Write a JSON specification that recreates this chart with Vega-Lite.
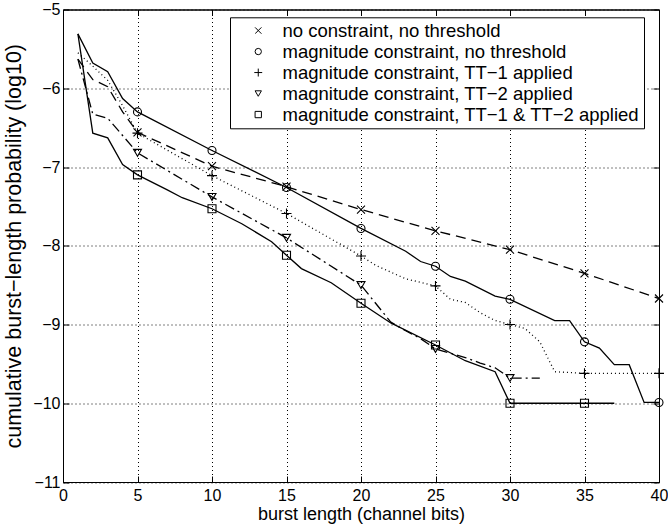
{
  "$schema": "https://vega.github.io/schema/vega-lite/v6.json",
  "width": 596,
  "height": 472.5,
  "autosize": {"type": "none"},
  "padding": {"left": 63, "top": 9.5, "right": 9, "bottom": 47},
  "background": "white",
  "config": {
    "view": {"stroke": "black", "strokeWidth": 1},
    "font": "Liberation Sans",
    "axis": {
      "domainColor": "black",
      "tickColor": "black",
      "labelColor": "black",
      "titleColor": "black",
      "labelFontSize": 16,
      "titleFontSize": 18,
      "titleFontWeight": "normal",
      "labelFlush": false,
      "labelOverlap": false,
      "tickSize": -6
    }
  },
  "data": {
    "values": [
      {"s": "no constraint, no threshold", "x": 1, "y": -5.63},
      {"s": "no constraint, no threshold", "x": 2, "y": -5.89},
      {"s": "no constraint, no threshold", "x": 3, "y": -5.98},
      {"s": "no constraint, no threshold", "x": 4, "y": -6.3},
      {"s": "no constraint, no threshold", "x": 5, "y": -6.56},
      {"s": "no constraint, no threshold", "x": 10, "y": -6.99},
      {"s": "no constraint, no threshold", "x": 15, "y": -7.25},
      {"s": "no constraint, no threshold", "x": 20, "y": -7.54},
      {"s": "no constraint, no threshold", "x": 25, "y": -7.81},
      {"s": "no constraint, no threshold", "x": 30, "y": -8.05},
      {"s": "no constraint, no threshold", "x": 35, "y": -8.35},
      {"s": "no constraint, no threshold", "x": 40, "y": -8.67},

      {"s": "magnitude constraint, no threshold", "x": 1, "y": -5.31},
      {"s": "magnitude constraint, no threshold", "x": 2, "y": -5.68},
      {"s": "magnitude constraint, no threshold", "x": 3, "y": -5.79},
      {"s": "magnitude constraint, no threshold", "x": 4, "y": -6.13},
      {"s": "magnitude constraint, no threshold", "x": 5, "y": -6.3},
      {"s": "magnitude constraint, no threshold", "x": 10, "y": -6.79},
      {"s": "magnitude constraint, no threshold", "x": 15, "y": -7.26},
      {"s": "magnitude constraint, no threshold", "x": 20, "y": -7.78},
      {"s": "magnitude constraint, no threshold", "x": 23, "y": -8.07},
      {"s": "magnitude constraint, no threshold", "x": 24, "y": -8.2},
      {"s": "magnitude constraint, no threshold", "x": 25, "y": -8.26},
      {"s": "magnitude constraint, no threshold", "x": 26, "y": -8.39},
      {"s": "magnitude constraint, no threshold", "x": 27, "y": -8.45},
      {"s": "magnitude constraint, no threshold", "x": 29, "y": -8.64},
      {"s": "magnitude constraint, no threshold", "x": 30, "y": -8.68},
      {"s": "magnitude constraint, no threshold", "x": 33, "y": -8.95},
      {"s": "magnitude constraint, no threshold", "x": 34, "y": -8.95},
      {"s": "magnitude constraint, no threshold", "x": 35, "y": -9.22},
      {"s": "magnitude constraint, no threshold", "x": 36, "y": -9.3},
      {"s": "magnitude constraint, no threshold", "x": 37, "y": -9.51},
      {"s": "magnitude constraint, no threshold", "x": 38, "y": -9.51},
      {"s": "magnitude constraint, no threshold", "x": 39, "y": -9.99},
      {"s": "magnitude constraint, no threshold", "x": 40, "y": -9.99},

      {"s": "magnitude constraint, TT−1 applied", "x": 1, "y": -5.55},
      {"s": "magnitude constraint, TT−1 applied", "x": 2, "y": -5.72},
      {"s": "magnitude constraint, TT−1 applied", "x": 3, "y": -5.9},
      {"s": "magnitude constraint, TT−1 applied", "x": 4, "y": -6.22},
      {"s": "magnitude constraint, TT−1 applied", "x": 5, "y": -6.57},
      {"s": "magnitude constraint, TT−1 applied", "x": 10, "y": -7.11},
      {"s": "magnitude constraint, TT−1 applied", "x": 15, "y": -7.59},
      {"s": "magnitude constraint, TT−1 applied", "x": 20, "y": -8.13},
      {"s": "magnitude constraint, TT−1 applied", "x": 21, "y": -8.25},
      {"s": "magnitude constraint, TT−1 applied", "x": 23, "y": -8.42},
      {"s": "magnitude constraint, TT−1 applied", "x": 25, "y": -8.51},
      {"s": "magnitude constraint, TT−1 applied", "x": 26, "y": -8.68},
      {"s": "magnitude constraint, TT−1 applied", "x": 27, "y": -8.72},
      {"s": "magnitude constraint, TT−1 applied", "x": 28, "y": -8.85},
      {"s": "magnitude constraint, TT−1 applied", "x": 29, "y": -8.95},
      {"s": "magnitude constraint, TT−1 applied", "x": 30, "y": -9.0},
      {"s": "magnitude constraint, TT−1 applied", "x": 31, "y": -9.05},
      {"s": "magnitude constraint, TT−1 applied", "x": 32, "y": -9.22},
      {"s": "magnitude constraint, TT−1 applied", "x": 33, "y": -9.6},
      {"s": "magnitude constraint, TT−1 applied", "x": 35, "y": -9.62},
      {"s": "magnitude constraint, TT−1 applied", "x": 40, "y": -9.62},

      {"s": "magnitude constraint, TT−2 applied", "x": 1, "y": -5.63},
      {"s": "magnitude constraint, TT−2 applied", "x": 2, "y": -6.33},
      {"s": "magnitude constraint, TT−2 applied", "x": 3, "y": -6.38},
      {"s": "magnitude constraint, TT−2 applied", "x": 4, "y": -6.6},
      {"s": "magnitude constraint, TT−2 applied", "x": 5, "y": -6.82},
      {"s": "magnitude constraint, TT−2 applied", "x": 10, "y": -7.38},
      {"s": "magnitude constraint, TT−2 applied", "x": 15, "y": -7.9},
      {"s": "magnitude constraint, TT−2 applied", "x": 20, "y": -8.5},
      {"s": "magnitude constraint, TT−2 applied", "x": 22, "y": -8.97},
      {"s": "magnitude constraint, TT−2 applied", "x": 23, "y": -9.08},
      {"s": "magnitude constraint, TT−2 applied", "x": 24, "y": -9.18},
      {"s": "magnitude constraint, TT−2 applied", "x": 25, "y": -9.31},
      {"s": "magnitude constraint, TT−2 applied", "x": 27, "y": -9.42},
      {"s": "magnitude constraint, TT−2 applied", "x": 28, "y": -9.49},
      {"s": "magnitude constraint, TT−2 applied", "x": 29, "y": -9.55},
      {"s": "magnitude constraint, TT−2 applied", "x": 30, "y": -9.68},
      {"s": "magnitude constraint, TT−2 applied", "x": 32, "y": -9.68},

      {"s": "magnitude constraint, TT−1 & TT−2 applied", "x": 1, "y": -5.31},
      {"s": "magnitude constraint, TT−1 & TT−2 applied", "x": 2, "y": -6.57},
      {"s": "magnitude constraint, TT−1 & TT−2 applied", "x": 3, "y": -6.63},
      {"s": "magnitude constraint, TT−1 & TT−2 applied", "x": 4, "y": -6.97},
      {"s": "magnitude constraint, TT−1 & TT−2 applied", "x": 5, "y": -7.1},
      {"s": "magnitude constraint, TT−1 & TT−2 applied", "x": 7, "y": -7.29},
      {"s": "magnitude constraint, TT−1 & TT−2 applied", "x": 8, "y": -7.39},
      {"s": "magnitude constraint, TT−1 & TT−2 applied", "x": 10, "y": -7.53},
      {"s": "magnitude constraint, TT−1 & TT−2 applied", "x": 12, "y": -7.72},
      {"s": "magnitude constraint, TT−1 & TT−2 applied", "x": 14, "y": -7.95},
      {"s": "magnitude constraint, TT−1 & TT−2 applied", "x": 15, "y": -8.12},
      {"s": "magnitude constraint, TT−1 & TT−2 applied", "x": 16, "y": -8.29},
      {"s": "magnitude constraint, TT−1 & TT−2 applied", "x": 18, "y": -8.47},
      {"s": "magnitude constraint, TT−1 & TT−2 applied", "x": 20, "y": -8.73},
      {"s": "magnitude constraint, TT−1 & TT−2 applied", "x": 22, "y": -8.98},
      {"s": "magnitude constraint, TT−1 & TT−2 applied", "x": 25, "y": -9.26},
      {"s": "magnitude constraint, TT−1 & TT−2 applied", "x": 27, "y": -9.46},
      {"s": "magnitude constraint, TT−1 & TT−2 applied", "x": 29, "y": -9.6},
      {"s": "magnitude constraint, TT−1 & TT−2 applied", "x": 30, "y": -10.0},
      {"s": "magnitude constraint, TT−1 & TT−2 applied", "x": 35, "y": -10.0},
      {"s": "magnitude constraint, TT−1 & TT−2 applied", "x": 37, "y": -10.0}
    ]
  },
  "resolve": {"axis": {"x": "independent", "y": "independent"}},
  "layer": [
    {
      "transform": [{"filter": "datum.s == 'no constraint, no threshold'"}],
      "mark": {"type": "line", "color": "black", "strokeWidth": 1.3, "strokeDash": [10, 6]},
      "encoding": {
        "x": {
          "field": "x", "type": "quantitative",
          "scale": {"domain": [0, 40], "nice": false, "zero": false},
          "axis": {
            "orient": "bottom",
            "values": [0, 5, 10, 15, 20, 25, 30, 35, 40],
            "title": "burst length (channel bits)",
            "grid": true, "gridDash": [1, 3], "gridColor": "black", "gridOpacity": 1,
            "labelPadding": 11, "titlePadding": 2
          }
        },
        "y": {
          "field": "y", "type": "quantitative",
          "scale": {"domain": [-11, -5], "nice": false, "zero": false},
          "axis": {
            "orient": "left",
            "values": [-11, -10, -9, -8, -7, -6, -5],
            "title": "cumulative burst−length probability (log10)",
            "titleFontSize": 21.5,
            "grid": true, "gridDash": [1, 3], "gridColor": "black", "gridOpacity": 1,
            "labelPadding": 9, "titlePadding": 7
          }
        }
      }
    },
    {
      "transform": [{"filter": "datum.s == 'magnitude constraint, no threshold'"}],
      "mark": {"type": "line", "color": "black", "strokeWidth": 1.3},
      "encoding": {
        "x": {"field": "x", "type": "quantitative", "axis": null},
        "y": {"field": "y", "type": "quantitative", "axis": null}
      }
    },
    {
      "transform": [{"filter": "datum.s == 'magnitude constraint, TT−1 applied'"}],
      "mark": {"type": "line", "color": "black", "strokeWidth": 1.3, "strokeDash": [1, 3]},
      "encoding": {
        "x": {"field": "x", "type": "quantitative", "axis": null},
        "y": {"field": "y", "type": "quantitative", "axis": null}
      }
    },
    {
      "transform": [{"filter": "datum.s == 'magnitude constraint, TT−2 applied'"}],
      "mark": {"type": "line", "color": "black", "strokeWidth": 1.3, "strokeDash": [10, 4, 2, 4]},
      "encoding": {
        "x": {"field": "x", "type": "quantitative", "axis": null},
        "y": {"field": "y", "type": "quantitative", "axis": null}
      }
    },
    {
      "transform": [{"filter": "datum.s == 'magnitude constraint, TT−1 & TT−2 applied'"}],
      "mark": {"type": "line", "color": "black", "strokeWidth": 1.3},
      "encoding": {
        "x": {"field": "x", "type": "quantitative", "axis": null},
        "y": {"field": "y", "type": "quantitative", "axis": null}
      }
    },
    {
      "transform": [{"filter": "datum.x % 5 == 0"}],
      "mark": {"type": "point", "filled": false, "size": 64, "strokeWidth": 1.1, "color": "black", "opacity": 1},
      "encoding": {
        "x": {
          "field": "x", "type": "quantitative",
          "axis": {"orient": "top", "values": [0, 5, 10, 15, 20, 25, 30, 35, 40], "labels": false, "title": null, "grid": false}
        },
        "y": {
          "field": "y", "type": "quantitative",
          "axis": {"orient": "right", "values": [-11, -10, -9, -8, -7, -6, -5], "labels": false, "title": null, "grid": false}
        },
        "shape": {
          "field": "s", "type": "nominal",
          "scale": {
            "domain": ["no constraint, no threshold", "magnitude constraint, no threshold", "magnitude constraint, TT−1 applied", "magnitude constraint, TT−2 applied", "magnitude constraint, TT−1 & TT−2 applied"],
            "range": ["M-1,-1L1,1M-1,1L1,-1", "circle", "M-1.25,0L1.25,0M0,-1.25L0,1.25", "triangle-down", "square"]
          },
          "legend": {
            "orient": "none", "legendX": 167, "legendY": 7.8,
            "title": null,
            "strokeColor": "black", "fillColor": "white", "cornerRadius": 0,
            "padding": 4, "rowPadding": 2,
            "labelFontSize": 18.5, "labelColor": "black", "labelLimit": 600,
            "symbolSize": 40, "symbolStrokeWidth": 1, "symbolStrokeColor": "black", "symbolFillColor": "transparent",
            "symbolOffset": 15, "labelOffset": 15
          }
        }
      }
    }
  ]
}
